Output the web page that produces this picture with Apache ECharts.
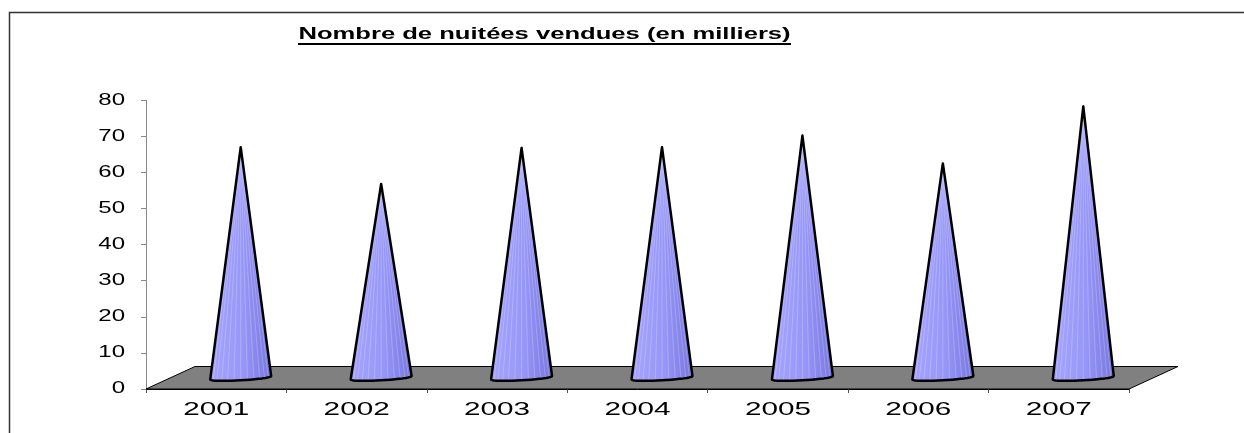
<!DOCTYPE html>
<html><head><meta charset="utf-8">
<script src="https://cdn.jsdelivr.net/npm/echarts@6/dist/echarts.min.js"></script>
<style>html,body{margin:0;padding:0;background:#fff}#c{width:1244px;height:433px}</style>
</head><body><div id="c"></div>
<script>
const chartTitle = 'Nombre de nuitées vendues (en milliers)';
const categories = ['2001', '2002', '2003', '2004', '2005', '2006', '2007'];
const values = [63.9, 53.7, 63.7, 63.9, 67.1, 59.4, 75.2];
const yTickValues = [0, 10, 20, 30, 40, 50, 60, 70, 80];
const yTickLabels = ['0', '10', '20', '30', '40', '50', '60', '70', '80'];

const DX = 49, DY = -22.5;           // floor depth (oblique projection)
const FONT = '"Liberation Sans", Arial, sans-serif';

const chart = echarts.init(document.getElementById('c'), null, {renderer: 'canvas'});

function floorItem(params, api) {
  const cs = params.coordSys;
  const x0 = cs.x, x1 = cs.x + cs.width, y0 = api.coord([0, 0])[1];
  return {
    type: 'polygon',
    shape: {points: [[x0, y0], [x1, y0], [x1 + DX, y0 + DY], [x0 + DX, y0 + DY]]},
    style: {fill: '#808080', stroke: '#000', lineWidth: 1}
  };
}

function coneItem(params, api) {
  const i = api.value(0), v = api.value(1);
  const top = api.coord([i, v]);
  const base = api.coord([i, 0]);
  const bw = api.size([1, 0])[0];
  const rx = bw * 0.217, ry = 2.6;
  const cx = base[0] + DX / 2, by = base[1] + DY / 2;
  const apex = [top[0] + DX / 2, top[1] + DY / 2];
  const pts = [apex];
  const n = 20;
  const basePt = t => [cx - rx * Math.cos(t), by + ry * Math.sin(t) + 1.7 * Math.cos(t)];
  for (let k = 0; k <= n; k++) pts.push(basePt(Math.PI * k / n));
  const children = [{
    type: 'polygon',
    shape: {points: pts},
    style: {
      fill: {type: 'linear', x: 0, y: 0, x2: 1, y2: 0, colorStops: [
        {offset: 0, color: '#a4a4ff'},
        {offset: 0.55, color: '#9696f8'},
        {offset: 1, color: '#7676de'}
      ]},
      stroke: null
    }
  }];
  const m = 14;
  for (let k = 1; k < m; k++) {
    const b = basePt(Math.PI * k / m);
    children.push({type: 'line', shape: {x1: apex[0], y1: apex[1], x2: b[0], y2: b[1]},
      style: {stroke: 'rgba(255,255,255,0.22)', lineWidth: 1}});
  }
  children.push({
    type: 'polygon',
    shape: {points: pts},
    style: {fill: null, stroke: '#000', lineWidth: 2.5, lineJoin: 'round'}
  });
  return {type: 'group', children};
}

function xLabelItem(params, api) {
  const i = api.value(0);
  const p = api.coord([i, 0]);
  return {
    type: 'text', x: p[0], y: p[1] + 21, scaleX: 1.65,
    style: {text: categories[i], font: '18px ' + FONT, fill: '#000',
      align: 'center', verticalAlign: 'middle', textAlign: 'center', textVerticalAlign: 'middle'}
  };
}

function yLabelItem(params, api) {
  const v = api.value(1);
  const p = api.coord([0, v]);
  const cs = params.coordSys;
  return {
    type: 'text', x: cs.x - 21, y: p[1], scaleX: 1.5,
    style: {text: yTickLabels[params.dataIndex], font: '16px ' + FONT, fill: '#000',
      align: 'right', verticalAlign: 'middle', textAlign: 'right', textVerticalAlign: 'middle'}
  };
}

chart.setOption({
  animation: false,
  backgroundColor: '#fff',
  grid: {left: 146, right: 115, top: 100.3, bottom: 44, containLabel: false},
  xAxis: {
    type: 'category', data: categories, boundaryGap: true,
    axisLine: {show: true, lineStyle: {color: '#000', width: 1}},
    axisTick: {show: true, length: 4, lineStyle: {color: '#555'}},
    axisLabel: {show: false}, splitLine: {show: false}
  },
  yAxis: {
    type: 'value', min: 0, max: 80, interval: 10,
    axisLine: {show: true, lineStyle: {color: '#888', width: 1}},
    axisTick: {show: true, length: 5, lineStyle: {color: '#888'}},
    axisLabel: {show: false}, splitLine: {show: false}
  },
  graphic: [
    {type: 'rect', silent: true, shape: {x: 9.5, y: 12.5, width: 1400, height: 600},
      style: {fill: 'none', stroke: '#333', lineWidth: 1.5}},
    {type: 'text', x: 544.5, y: 34.5, scaleX: 1.6, silent: true,
      style: {text: chartTitle, font: 'bold 16px ' + FONT, fill: '#000',
        align: 'center', verticalAlign: 'middle', textAlign: 'center', textVerticalAlign: 'middle'}},
    {type: 'line', silent: true, shape: {x1: 298, y1: 44, x2: 791, y2: 44},
      style: {stroke: '#000', lineWidth: 2}}
  ],
  series: [
    {type: 'custom', name: 'floor', data: [[0, 0]], renderItem: floorItem, z: 1, silent: true},
    {type: 'custom', name: 'Nuitées', data: values.map((v, i) => [i, v]), renderItem: coneItem, z: 3,
      encode: {x: 0, y: 1}},
    {type: 'custom', name: 'xLabels', data: categories.map((c, i) => [i, 0]), renderItem: xLabelItem, z: 4, silent: true},
    {type: 'custom', name: 'yLabels', data: yTickValues.map(v => [0, v]), renderItem: yLabelItem, z: 4, silent: true}
  ]
});
</script></body></html>
